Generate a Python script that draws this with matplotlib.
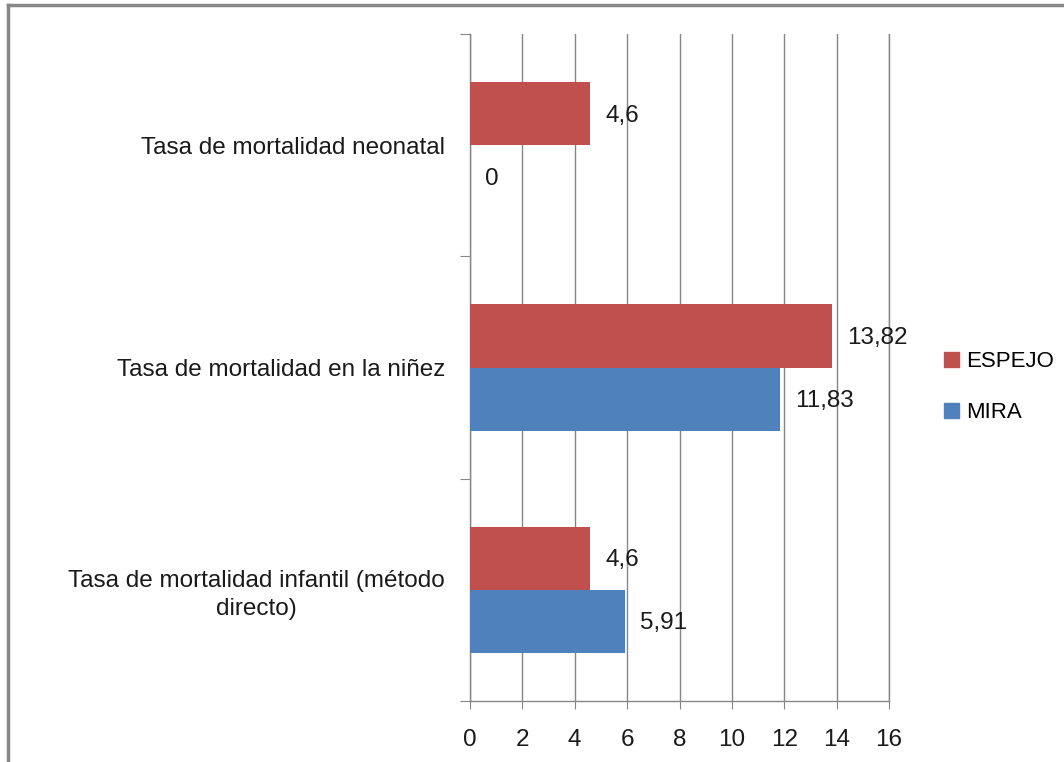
import numpy as np
import matplotlib
matplotlib.use("Agg")
from matplotlib import pyplot as plt
from matplotlib.lines import Line2D
from matplotlib.transforms import Affine2D

categories = ["Tasa de mortalidad infantil (método\ndirecto)",
              "Tasa de mortalidad en la niñez",
              "Tasa de mortalidad neonatal"]
espejo = [4.6, 13.82, 4.6]
mira = [5.91, 11.83, 0]
espejo_labels = ["4,6", "13,82", "4,6"]
mira_labels = ["5,91", "11,83", "0"]
xticks = [0, 2, 4, 6, 8, 10, 12, 14, 16]

red = "#C0504D"
blue = "#4F81BD"
grid_col = "#868686"
txt = "#1a1a1a"
fs = 17.5
leg_fs = 16

plt.rcParams['font.family'] = ['Liberation Sans', 'DejaVu Sans']

W, H = 1064, 762
fig = plt.figure(figsize=(W / 100, H / 100), dpi=100)

# plot area in pixels
x0, x1, y0, y1 = 470, 889, 34, 701
ax = fig.add_axes([x0 / W, 1 - y1 / H, (x1 - x0) / W, (y1 - y0) / H])

y = np.arange(len(categories))
h = 0.284
ax.barh(y + h / 2, espejo, height=h, color=red, linewidth=0, label="ESPEJO", zorder=3)
ax.barh(y - h / 2, mira, height=h, color=blue, linewidth=0, label="MIRA", zorder=3)

for yi, v, s in zip(y, espejo, espejo_labels):
    ax.annotate(s, (v, yi + h / 2), xytext=(15, -2), textcoords="offset pixels",
                va="center", ha="left", fontsize=fs, color=txt)
for yi, v, s in zip(y, mira, mira_labels):
    ax.annotate(s, (v, yi - h / 2), xytext=(15, -2), textcoords="offset pixels",
                va="center", ha="left", fontsize=fs, color=txt)

ax.set_xlim(0, 16)
ax.set_ylim(-0.5, 2.5)
ax.set_xticks(xticks)
ax.set_xticklabels([str(t) for t in xticks], fontsize=fs, color=txt)
ax.tick_params(axis="x", length=6, color=grid_col, pad=14)
ax.xaxis.grid(True, color=grid_col, linewidth=1, zorder=0)
ax.axvline(16, color=grid_col, linewidth=1, zorder=0, clip_on=False)

# category ticks at band boundaries, labels at band centers
ax.set_yticks([-0.5, 0.5, 1.5, 2.5])
ax.set_yticklabels([])
ax.set_yticks(y, minor=True)
ax.set_yticklabels(categories, minor=True, fontsize=fs, color=txt, ha="center",
                   multialignment="center", linespacing=1.35)
ax.tick_params(axis="y", which="major", length=7, color=grid_col)
ax.tick_params(axis="y", which="minor", length=0, pad=0)
fig.canvas.draw()
for lab in ax.get_yticklabels(minor=True):
    bb = lab.get_window_extent()
    shift = (x0 - 25) - bb.x1
    lab.set_transform(lab.get_transform() + Affine2D().translate(shift, 0))

for side in ["top", "right"]:
    ax.spines[side].set_visible(False)
for side in ["left", "bottom"]:
    ax.spines[side].set_color(grid_col)
    ax.spines[side].set_linewidth(1)

handles = [plt.Rectangle((0, 0), 1, 1, color=red), plt.Rectangle((0, 0), 1, 1, color=blue)]
ax.legend(handles, ["ESPEJO", "MIRA"], loc="center left", bbox_to_anchor=(944 / W, 1 - 387 / H),
          bbox_transform=fig.transFigure, frameon=False, fontsize=leg_fs,
          borderpad=0, borderaxespad=0,
          handlelength=0.68, handleheight=0.68, handletextpad=0.3, labelspacing=1.35)

# outer border (chart frame, cut at right/bottom)
fig.add_artist(Line2D([8 / W, 8 / W], [0, 1 - 5 / H], transform=fig.transFigure, color="#888888", linewidth=2.5))
fig.add_artist(Line2D([8 / W, 1], [1 - 5 / H, 1 - 5 / H], transform=fig.transFigure, color="#888888", linewidth=2.5))

fig.savefig("out.png", dpi=100)
